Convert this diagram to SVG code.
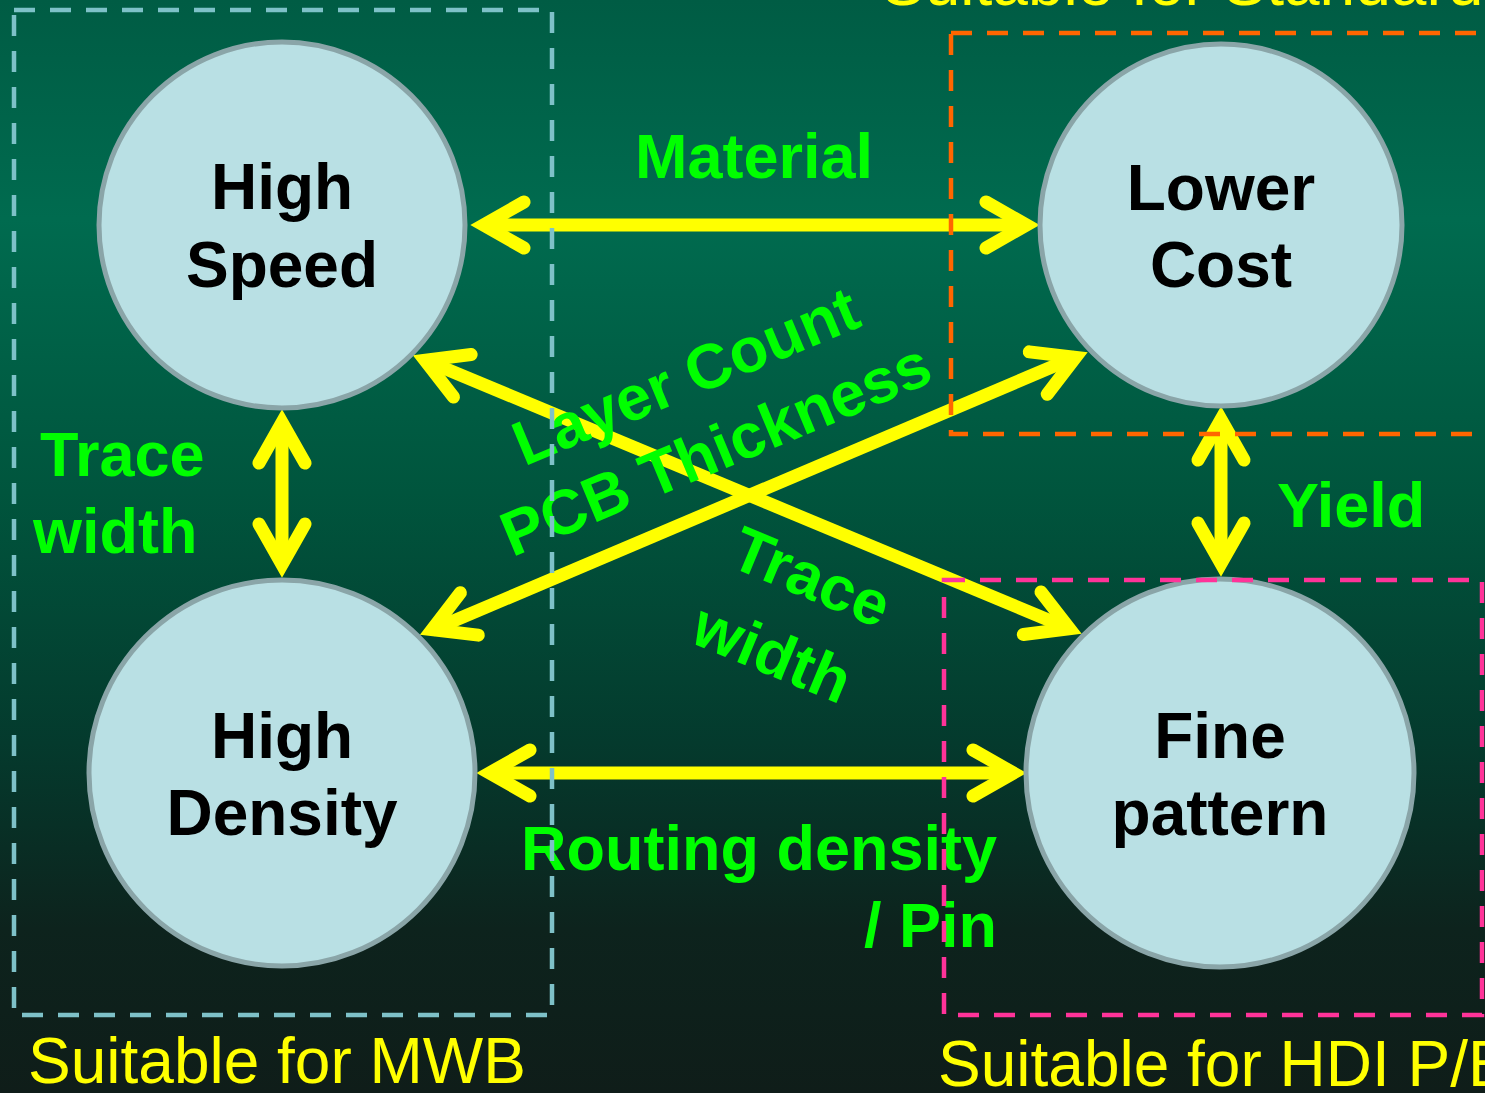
<svg xmlns="http://www.w3.org/2000/svg" xmlns:xlink="http://www.w3.org/1999/xlink" width="1485" height="1093" viewBox="0 0 1485 1093">
  <defs>
    <linearGradient id="bg" x1="0" y1="0" x2="0" y2="1">
      <stop offset="0" stop-color="#005c44"/>
      <stop offset="0.2" stop-color="#006b4f"/>
      <stop offset="0.45" stop-color="#00553d"/>
      <stop offset="0.68" stop-color="#043a2d"/>
      <stop offset="0.85" stop-color="#0d231d"/>
      <stop offset="1" stop-color="#0f1d19"/>
    </linearGradient>
    <path id="chev" d="M -54 -23 L -13.5 0 L -54 23"/>
    <style>
      .node circle { fill: #b9e0e4; stroke: #8aa5a8; stroke-width: 5; }
      .node text { font-family: "Liberation Sans", Arial, sans-serif; font-weight: bold; font-size: 64px; fill: #000; text-anchor: middle; }
      .conn line { stroke: #ffff00; stroke-width: 13; stroke-linecap: butt; }
      .conn use { fill: none; stroke: #ffff00; stroke-width: 13; stroke-linejoin: miter; stroke-miterlimit: 10; stroke-linecap: round; }
      .lbl { font-family: "Liberation Sans", Arial, sans-serif; font-weight: bold; font-size: 63px; fill: #00ff00; }
      .cap { font-family: "Liberation Sans", Arial, sans-serif; font-size: 64px; fill: #ffff00; }
      .box { fill: none; stroke-width: 4.5; stroke-dasharray: 21 15; }
    </style>
  </defs>

  <rect x="0" y="0" width="1485" height="1093" fill="url(#bg)"/>

  <g id="connectors" class="conn">
    <line x1="483" y1="225" x2="1027" y2="225"/>
    <use xlink:href="#chev" href="#chev" transform="translate(470,225) rotate(180)"/>
    <use xlink:href="#chev" href="#chev" transform="translate(1040,225)"/>

    <line x1="282" y1="422" x2="282" y2="565"/>
    <use xlink:href="#chev" href="#chev" transform="translate(282,409) rotate(-90)"/>
    <use xlink:href="#chev" href="#chev" transform="translate(282,578) rotate(90)"/>

    <line x1="1221" y1="419" x2="1221" y2="564"/>
    <use xlink:href="#chev" href="#chev" transform="translate(1221,406) rotate(-90)"/>
    <use xlink:href="#chev" href="#chev" transform="translate(1221,577) rotate(90)"/>

    <line x1="489" y1="773" x2="1014" y2="773"/>
    <use xlink:href="#chev" href="#chev" transform="translate(476,773) rotate(180)"/>
    <use xlink:href="#chev" href="#chev" transform="translate(1027,773)"/>

    <line x1="424.5" y1="360" x2="1070" y2="629"/>
    <use xlink:href="#chev" href="#chev" transform="translate(412.5,355) rotate(-157.38)"/>
    <use xlink:href="#chev" href="#chev" transform="translate(1082,634) rotate(22.62)"/>

    <line x1="431.6" y1="630.3" x2="1076" y2="356.7"/>
    <use xlink:href="#chev" href="#chev" transform="translate(1088,352) rotate(-22.95)"/>
    <use xlink:href="#chev" href="#chev" transform="translate(419.6,635) rotate(157.05)"/>
  </g>

  <g id="labels">
    <text class="lbl" x="754" y="178" text-anchor="middle" font-size="62">Material</text>
    <text class="lbl" x="40" y="476">Trace</text>
    <text class="lbl" x="33" y="553">width</text>
    <text class="lbl" x="1277" y="527">Yield</text>
    <text class="lbl" x="997" y="870" text-anchor="end" font-size="64.5">Routing density</text>
    <text class="lbl" x="997" y="947" text-anchor="end">/ Pin</text>
    <text class="lbl" text-anchor="middle" transform="translate(694,396) rotate(-22.6)">Layer Count</text>
    <text class="lbl" text-anchor="middle" transform="translate(724,469) rotate(-22.6)">PCB Thickness</text>
    <text class="lbl" text-anchor="middle" transform="translate(803,597) rotate(22.6)">Trace</text>
    <text class="lbl" text-anchor="middle" transform="translate(764,673) rotate(22.6)">width</text>
  </g>

  <g id="node-high-speed" class="node">
    <circle cx="282" cy="225" r="183"/>
    <text x="282" y="209">High</text>
    <text x="282" y="287">Speed</text>
  </g>
  <g id="node-lower-cost" class="node">
    <circle cx="1221" cy="225" r="181"/>
    <text x="1221" y="210">Lower</text>
    <text x="1221" y="287">Cost</text>
  </g>
  <g id="node-high-density" class="node">
    <circle cx="282" cy="773" r="193"/>
    <text x="282" y="758">High</text>
    <text x="282" y="835">Density</text>
  </g>
  <g id="node-fine-pattern" class="node">
    <circle cx="1220" cy="773" r="194"/>
    <text x="1220" y="758">Fine</text>
    <text x="1220" y="835">pattern</text>
  </g>

  <g id="regions">
    <rect class="box" x="14" y="10" width="538" height="1005" stroke="#7ec1c8"/>
    <rect class="box" x="951" y="33" width="600" height="401" stroke="#ff6600"/>
    <rect class="box" x="944" y="580" width="538" height="435" stroke="#ff3399"/>
    <text class="cap" x="882" y="5">Suitable for Standard</text>
    <text class="cap" x="28" y="1083">Suitable for MWB</text>
    <text class="cap" x="938" y="1086">Suitable for HDI P/B</text>
  </g>
</svg>
